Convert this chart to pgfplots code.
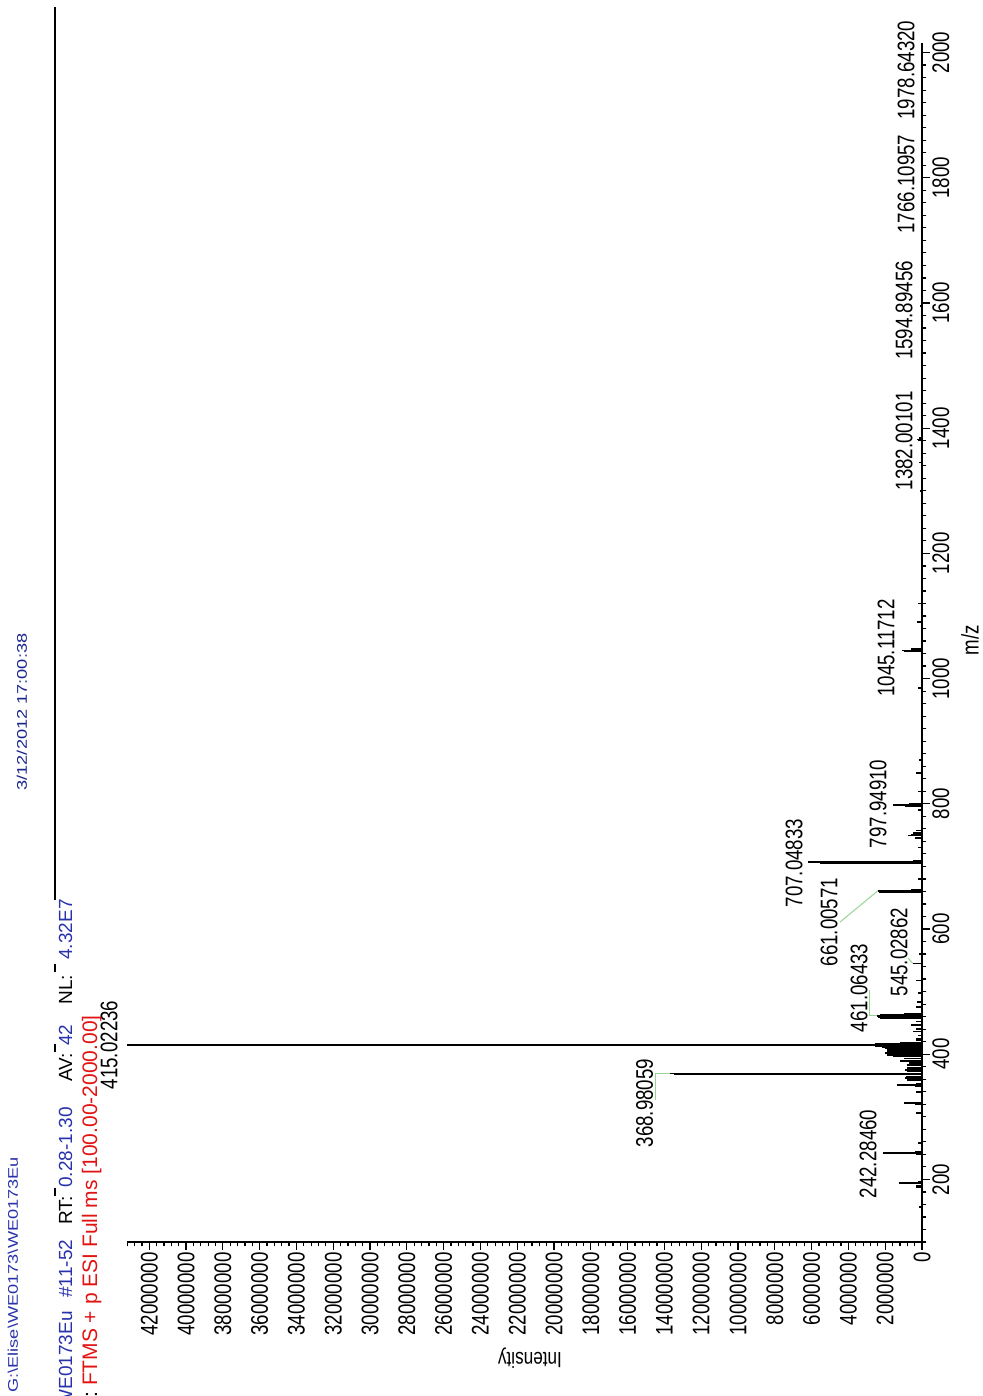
\documentclass[border=0pt]{standalone}
\usepackage{fontspec}
\setmainfont{Liberation Sans}
\newfontfamily\condsans{Liberation Sans}[FakeStretch=0.78]
\newfontfamily\widesans{Liberation Sans}[FakeStretch=1.3]
\usepackage{pgfplots}
\usepackage{pgfplotstable}
\pgfplotsset{compat=1.18}

\definecolor{hdrblue}{RGB}{40,50,170}
\definecolor{datenavy}{RGB}{25,35,140}
\definecolor{filtred}{RGB}{225,20,20}
\definecolor{leadgreen}{RGB}{150,212,150}

% centroided peak list: m/z, intensity (counts)
\pgfplotstableread{
mz int
156.0 150000
187.5 300000
190.0 300000
194.1 1250000
196.1 200000
240.3 300000
242.28460 2100000
244.3 400000
258.0 200000
306.0 300000
320.0 400000
322.0 1000000
340.0 300000
349.0 400000
351.0 1360000
353.0 300000
359.0 800000
362.0 900000
364.0 850000
367.98 13500000
368.98059 13700000
372.0 800000
375.0 900000
378.0 800000
383.0 800000
386.0 700000
389.0 1200000
393.0 1000000
397.0 1600000
399.0 1900000
401.0 2000000
403.0 2000000
405.0 1900000
407.0 1900000
409.0 2000000
411.0 2200000
413.0 2550000
415.02236 43200000
417.0 2550000
419.0 1200000
423.0 300000
425.0 300000
430.0 200000
436.0 500000
440.0 350000
447.0 600000
452.0 300000
458.1 2300000
459.1 2400000
461.06433 2450000
463.1 2300000
464.0 1000000
475.0 300000
483.0 250000
498.0 200000
518.0 300000
545.02862 500000
560.0 150000
659.0 2350000
661.00571 2400000
663.0 600000
680.0 200000
705.05 5550000
707.04833 6200000
709.0 500000
730.0 200000
745.0 400000
749.0 750000
751.0 600000
753.0 500000
757.0 300000
790.0 200000
795.95 900000
797.94910 1600000
799.95 700000
820.0 200000
849.0 300000
870.0 150000
985.0 200000
1043.1 1000000
1045.11712 1100000
1047.1 600000
1090.0 250000
1120.0 200000
1300.0 100000
1345.0 150000
1380.0 200000
1382.00101 250000
1384.0 150000
1594.89456 100000
1766.10957 80000
1978.64320 60000
}\peaks

% intensity tick positions
\def\majorI{0}
\foreach \i in {2,4,...,42}{\xdef\majorI{\majorI,\i000000}}
\def\minorI{0}
\foreach \i in {4,8,...,432}{\xdef\minorI{\minorI,\i00000}}

\pgfkeys{/pgf/number format/.cd,fixed,precision=0,1000 sep={},assume math mode=true}

\begin{document}
\begin{tikzpicture}[
  peaklabel/.style={rotate=90, anchor=south, inner sep=0pt,
    font=\condsans\fontsize{12}{12}\selectfont},
  leader/.style={leadgreen, line width=0.5pt},
]
\path[use as bounding box] (0,0) rectangle (491.5pt,698pt);

\begin{axis}[
  at={(461pt,77pt)}, anchor=south east,
  scale only axis, width=397.4pt, height=599.4pt,
  xmin=0, xmax=43200000, ymin=100, ymax=2015,
  x dir=reverse,
  axis x line=bottom, axis y line=right,
  axis line style={-, line width=0.9pt},
  every outer x axis line/.append style={-},
  every outer y axis line/.append style={-},
  xtick/.expanded={\majorI}, minor xtick/.expanded={\minorI},
  ytick={200,400,...,2000}, minor ytick={100,120,...,2000},
  tick align=outside, major tick length=4pt, minor tick length=2.2pt,
  tick style={black, line width=0.6pt},
  scaled x ticks=false,
  xticklabel style={rotate=90, anchor=east, inner sep=1pt,
    font=\condsans\fontsize{12}{12}\selectfont},
  yticklabel style={rotate=90, anchor=north, inner sep=1pt,
    font=\condsans\fontsize{12}{12}\selectfont},
  clip=false,
]
\addplot[xcomb, black, line width=0.75pt, mark=none] table[x=int, y=mz] {\peaks};

% peak annotations
\node[peaklabel] at (axis cs:2450000,240.6) {242.28460};
\node[peaklabel] at (axis cs:14600000,322) {368.98059};
\node[peaklabel] at (axis cs:43700000,414.7) {415.02236};
\node[peaklabel] at (axis cs:2930000,505.8) {461.06433};
\node[peaklabel] at (axis cs:760000,563) {545.02862};
\node[peaklabel] at (axis cs:4570000,611) {661.00571};
\node[peaklabel] at (axis cs:6470000,705.4) {707.04833};
\node[peaklabel] at (axis cs:1900000,799.7) {797.94910};
\node[peaklabel] at (axis cs:1470000,1048.9) {1045.11712};
\node[peaklabel] at (axis cs:490000,1379.6) {1382.00101};
\node[peaklabel] at (axis cs:490000,1588) {1594.89456};
\node[peaklabel] at (axis cs:380000,1790) {1766.10957};
\node[peaklabel] at (axis cs:380000,1972) {1978.64320};

% leaders from shifted labels to their peaks
\draw[leader] (axis cs:14510000,326.8) -- (axis cs:14510000,368.98059) -- (axis cs:13700000,368.98059);
\draw[leader] (axis cs:2830000,502.6) -- (axis cs:2830000,461.06433) -- (axis cs:2450000,461.06433);
\draw[leader] (axis cs:760000,553.7) -- (axis cs:500000,545.02862);
\draw[leader] (axis cs:4460000,611) -- (axis cs:2400000,661.00571);
\end{axis}

% axis titles
\node[rotate=180, font=\condsans\fontsize{11}{11}\selectfont] at (265pt,19pt) {Intensity};
\node[rotate=90, font=\condsans\fontsize{12}{12}\selectfont] at (485pt,378pt) {m/z};

% header block
\draw[black, line width=1pt] (27.5pt,694.5pt) -- (27.5pt,248pt);
\foreach \yy in {212,172,100}{\draw[black, line width=1pt] (27.5pt,\yy pt) -- (27.5pt,\yy pt+4pt);}

\node[rotate=90, anchor=base west, inner sep=0pt, text=hdrblue,
  font=\widesans\fontsize{7}{7}\selectfont] at (9pt,1.5pt) {G:\textbackslash Elise\textbackslash WE0173\textbackslash WE0173Eu};
\node[rotate=90, anchor=base, inner sep=0pt, text=datenavy,
  font=\widesans\fontsize{7}{7}\selectfont] at (13.5pt,342pt) {3/12/2012 17:00:38};

\begin{scope}[every node/.style={rotate=90, inner sep=0pt, font=\fontsize{9.5}{9.5}\selectfont}]
\node[anchor=base east, text=hdrblue] at (36pt,42.5pt) {WE0173Eu};
\node[anchor=base west, text=hdrblue] at (36pt,49pt) {\#11-52};
\node[anchor=base west, text=black] at (36pt,85.5pt) {RT:};
\node[anchor=base west, text=hdrblue] at (36pt,104pt) {0.28-1.30};
\node[anchor=base west, text=black] at (36pt,157pt) {AV:};
\node[anchor=base west, text=hdrblue] at (36pt,175pt) {42};
\node[anchor=base west, text=black] at (36pt,195.5pt) {NL:};
\node[anchor=base west, text=hdrblue] at (36pt,218pt) {4.32E7};
\end{scope}
\node[rotate=90, anchor=base east, inner sep=0pt, font=\fontsize{10.5}{10.5}\selectfont]
  at (48.5pt,190.5pt) {\textcolor{black}{F:} \textcolor{filtred}{FTMS + p ESI Full ms [100.00-2000.00]}};
\end{tikzpicture}
\end{document}
